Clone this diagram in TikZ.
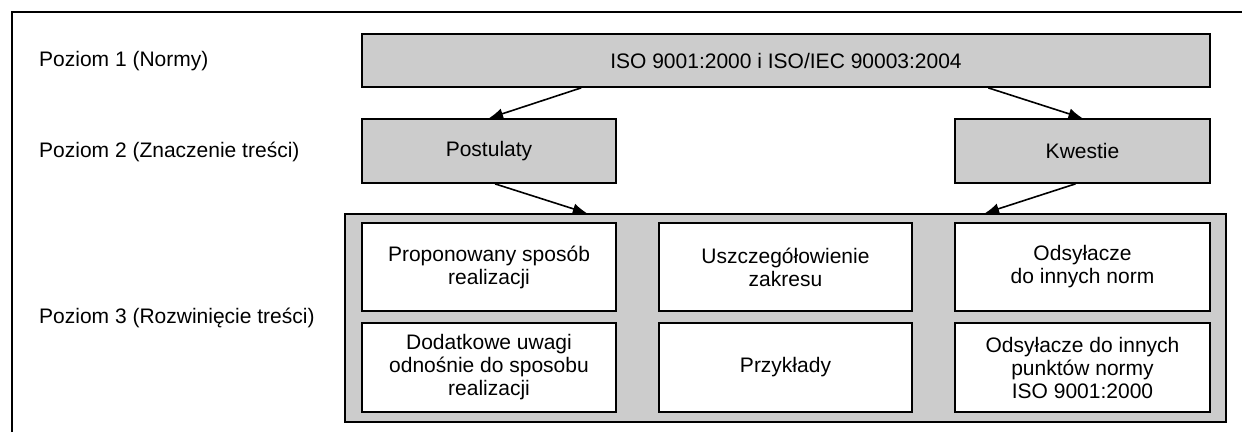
\documentclass[tikz,border=0pt]{standalone}
\usepackage{fontspec}
\setmainfont{Liberation Sans}
\usetikzlibrary{arrows.meta,calc}
\definecolor{boxgray}{RGB}{204,204,204}
\begin{document}
\begin{tikzpicture}[x=1pt,y=-1pt,
  txt/.style={font=\fontsize{21}{23}\selectfont},
  graybox/.style={txt,draw=black,line width=1.7pt,fill=boxgray,inner sep=0pt,align=center},
  cell/.style={txt,draw=black,line width=1.7pt,fill=white,inner sep=0pt,align=center,
    minimum width=254pt},
  lvl/.style={txt,anchor=west,inner sep=0pt},
  arr/.style={line width=1.6pt,-{Latex[length=14pt,width=11pt]}}]
\useasboundingbox (0,0) rectangle (1242,432);
% outer frame (continues past the right and bottom edges)
\draw[line width=1.3pt] (12,432) -- (12,12) -- (1242,12);

% level labels
\node[lvl] (l1) at (39,61) {Poziom 1 (Normy)};
\node[lvl] (l2) at (39,152) {Poziom 2 (Znaczenie treści)};
\node[lvl] (l3) at (39,318) {Poziom 3 (Rozwinięcie treści)};

% level 1 and 2
\node[graybox,minimum width=848pt,minimum height=53pt] (norm) at (786,60.5)
  {ISO 9001:2000 i ISO/IEC 90003:2004};
\node[graybox,minimum width=254pt,minimum height=64pt] (post) at (489,151) {Postulaty};
\node[graybox,minimum width=255pt,minimum height=64pt] (kw) at (1082.5,151) {Kwestie};

% level 3 container and cells
\node[graybox,minimum width=881pt,minimum height=208pt] (cont) at (785.5,318) {};
\node[cell,minimum height=88pt] (c11) at (489,267) {Proponowany sposób\\realizacji};
\node[cell,minimum height=88pt,minimum width=253pt] (c12) at (785.5,267) {Uszczegółowienie\\zakresu};
\node[cell,minimum height=88pt,minimum width=255pt] (c13) at (1082.5,267) {Odsyłacze\\do innych norm};
\node[cell,minimum height=89pt] (c21) at (489,367.5) {Dodatkowe uwagi\\odnośnie do sposobu\\realizacji};
\node[cell,minimum height=89pt,minimum width=253pt] (c22) at (785.5,367.5) {Przykłady};
\node[cell,minimum height=89pt,minimum width=255pt] (c23) at (1082.5,367.5) {Odsyłacze do innych\\punktów normy\\ISO 9001:2000};

% connectors
\draw[arr] ($(norm.south west)!0.259!(norm.south east)$) -- (post.north);
\draw[arr] ($(norm.south west)!0.738!(norm.south east)$) -- (kw.north);
\draw[arr] ($(post.south)+(6,0)$) -- ($(cont.north west)!0.275!(cont.north east)$);
\draw[arr] ($(kw.south)+(-7,0)$) -- ($(cont.north west)!0.726!(cont.north east)$);
\end{tikzpicture}
\end{document}
